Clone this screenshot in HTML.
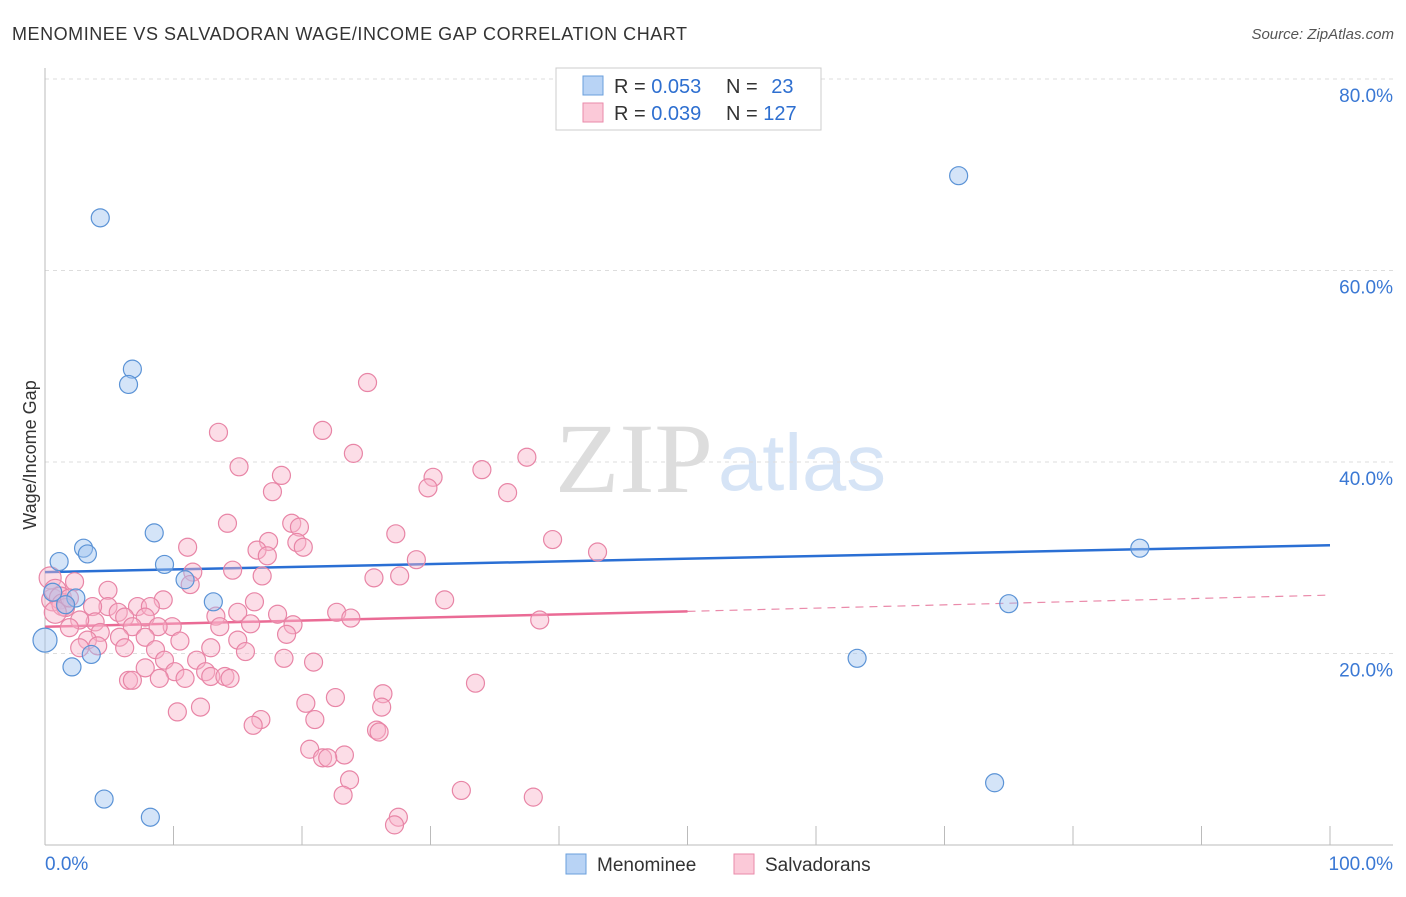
<!DOCTYPE html>
<html><head><meta charset="utf-8"><style>
body{margin:0;background:#fff;font-family:"Liberation Sans",sans-serif}
svg text{font-family:"Liberation Sans",sans-serif}
</style></head><body>
<svg id="chart" width="1406" height="892" viewBox="0 0 1406 892">
<text x="12" y="40" font-size="18" fill="#333" textLength="675" lengthAdjust="spacing">MENOMINEE VS SALVADORAN WAGE/INCOME GAP CORRELATION CHART</text>
<text x="1394" y="39" font-size="15" fill="#555" font-style="italic" text-anchor="end">Source: ZipAtlas.com</text>
<text x="555" y="492" font-size="100" fill="#ddd" textLength="158" lengthAdjust="spacingAndGlyphs" style="font-family:'Liberation Serif',serif">ZIP</text>
<text x="718" y="490" font-size="80" fill="#d6e4f6" textLength="168" lengthAdjust="spacingAndGlyphs">atlas</text>
<g id="grid"></g><g id="axes"></g><g id="trend"></g><g id="pts"></g>
<text transform="translate(36,455) rotate(-90)" font-size="18" fill="#333" text-anchor="middle">Wage/Income Gap</text>
<g>
<rect x="556" y="68" width="265" height="62" fill="#fff" stroke="#ccc"/>
<rect x="583" y="76" width="20" height="19" fill="#b8d3f5" stroke="#6a9fdc"/>
<rect x="583" y="103" width="20" height="19" fill="#fbc9d8" stroke="#ea8aaa"/>
<text x="614" y="93" font-size="20" fill="#333">R = <tspan fill="#2e6fd0">0.053</tspan></text>
<text x="726" y="93" font-size="20" fill="#333">N = <tspan fill="#2e6fd0" dx="8">23</tspan></text>
<text x="614" y="120" font-size="20" fill="#333">R = <tspan fill="#2e6fd0">0.039</tspan></text>
<text x="726" y="120" font-size="20" fill="#333">N = <tspan fill="#2e6fd0">127</tspan></text>
</g>
<g>
<rect x="566" y="854" width="20" height="20" fill="#b8d3f5" stroke="#6a9fdc"/>
<text x="597" y="871" font-size="19" fill="#333">Menominee</text>
<rect x="734" y="854" width="20" height="20" fill="#fbc9d8" stroke="#ea8aaa"/>
<text x="765" y="871" font-size="19" fill="#333">Salvadorans</text>
</g>
</svg>
<script>
const blueX=[71.1,4.3,6.8,6.5,8.5,3.0,3.3,1.1,9.3,85.2,10.9,2.4,13.1,75.0,0.6,0.0,3.6,2.1,63.2,4.6,8.2,73.9,1.6];
const blueY=[69.9,65.5,49.7,48.1,32.6,31.0,30.4,29.6,29.3,31.0,27.7,25.8,25.4,25.2,26.4,21.4,19.9,18.6,19.5,4.8,2.9,6.5,25.1];
const pinkX=[25.1,21.6,13.5,24.0,15.1,37.5,34.0,30.2,18.4,17.7,29.8,36.0,14.2,19.2,19.8,27.3,17.4,19.6,39.5,11.1,20.1,16.5,17.3,43.0,28.9,14.6,11.5,16.9,25.6,27.6,11.3,2.3,4.9,9.2,31.1,16.3,7.2,4.9,8.2,3.7,5.7,15.0,18.1,22.7,13.3,6.2,7.8,23.8,38.5,3.9,2.7,9.9,8.8,6.8,13.6,16.0,19.3,1.9,4.3,5.8,7.8,3.3,10.5,18.8,15.0,12.9,15.6,8.6,6.2,4.1,2.7,11.8,9.3,18.6,20.9,7.8,12.5,10.1,12.9,14.0,10.9,14.4,8.9,6.5,6.8,33.5,26.3,22.6,20.3,26.2,12.1,10.3,21.0,16.8,16.2,25.8,26.0,20.6,23.3,21.6,22.0,23.7,32.4,23.2,38.0,27.5,27.2,0.4,0.6,0.8,1.2,1.4,1.6,0.8,1.9];
const pinkY=[48.3,43.3,43.1,40.9,39.5,40.5,39.2,38.4,38.6,36.9,37.3,36.8,33.6,33.6,33.2,32.5,31.7,31.6,31.9,31.1,31.1,30.8,30.2,30.6,29.8,28.7,28.5,28.1,27.9,28.1,27.2,27.5,26.6,25.6,25.6,25.4,24.9,24.9,24.9,24.9,24.3,24.3,24.1,24.3,23.9,23.8,23.8,23.7,23.5,23.3,23.5,22.8,22.8,22.8,22.8,23.1,23.0,22.7,22.2,21.7,21.7,21.4,21.3,22.0,21.4,20.6,20.2,20.4,20.6,20.8,20.6,19.3,19.3,19.5,19.1,18.5,18.1,18.1,17.6,17.6,17.4,17.4,17.4,17.2,17.2,16.9,15.8,15.4,14.8,14.4,14.4,13.9,13.1,13.1,12.5,12.0,11.8,10.0,9.4,9.1,9.1,6.8,5.7,5.2,5.0,2.9,2.1,27.9,25.6,26.6,25.8,25.1,24.8,24.3,25.8];
const blueTrend=[28.5,31.3];
const pinkTrend=[22.8,24.4,26.1];
const yTicks=[20,40,60,80];
const ns="http://www.w3.org/2000/svg";
const sx=v=>45+v*12.85, sy=v=>845-v*9.575;
function mk(tag,attrs,parent){const e=document.createElementNS(ns,tag);for(const k in attrs)e.setAttribute(k,attrs[k]);document.getElementById(parent).appendChild(e);return e;}
yTicks.forEach(t=>{
 const l=mk('line',{x1:45,x2:1393,y1:sy(t),y2:sy(t),stroke:'#ddd','stroke-dasharray':'4,4'},'grid');
 
 
 const tx=mk('text',{x:1393,y:sy(t)+23,'font-size':19,fill:'#3a78d4','text-anchor':'end'},'grid');tx.textContent=t.toFixed(1)+'%';
 
 
});
mk('line',{x1:45,x2:45,y1:68,y2:845,stroke:'#bbb'},'axes');
mk('line',{x1:45,x2:1393,y1:845,y2:845,stroke:'#bbb'},'axes');
for(let i=0;i<=10;i++){const tk=mk('line',{x1:sx(i*10),x2:sx(i*10),y1:826,y2:845,stroke:'#bbb'},'axes');
 
 }
let t0=mk('text',{x:45,y:870,'font-size':19,fill:'#3a78d4'},'axes');t0.textContent='0.0%';


let t1=mk('text',{x:1393,y:870,'font-size':19,fill:'#3a78d4','text-anchor':'end'},'axes');t1.textContent='100.0%';


pinkX.forEach((x,i)=>{const c=mk('circle',{cx:sx(x),cy:sy(pinkY[i]),r:x<1.5?11:9,fill:'rgba(248,180,202,0.45)',stroke:'#e885a6','stroke-width':1.2},'pts');
 
 });
blueX.forEach((x,i)=>{const c=mk('circle',{cx:sx(x),cy:sy(blueY[i]),r:x<0.3?12:9,fill:'rgba(160,196,240,0.45)',stroke:'#5b93d6','stroke-width':1.2},'pts');
 
 });
let bl=mk('line',{x1:sx(0),x2:sx(100),y1:sy(blueTrend[0]),y2:sy(blueTrend[1]),stroke:'#2a6fd4','stroke-width':2.5},'trend');


let pl=mk('line',{x1:sx(0),x2:sx(50),y1:sy(pinkTrend[0]),y2:sy(pinkTrend[1]),stroke:'#ea6b95','stroke-width':2.5},'trend');


let pd=mk('line',{x1:sx(50),x2:sx(100),y1:sy(pinkTrend[1]),y2:sy(pinkTrend[2]),stroke:'#ea8aaa','stroke-width':1.2,'stroke-dasharray':'8,6'},'trend');


</script>
</body></html>
